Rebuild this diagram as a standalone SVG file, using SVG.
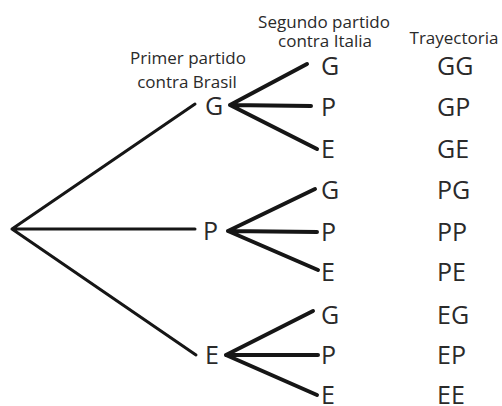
<svg xmlns="http://www.w3.org/2000/svg" width="502" height="406" viewBox="0 0 502 406">
<style>
.t{font-family:"Open Sans","Noto Sans",sans-serif;fill:#2a2a2a}
.h{font-size:17px;text-anchor:middle}
.n{font-size:25px}
.l1{stroke:#161616;stroke-width:3;fill:none;stroke-linecap:round}
.l2{stroke:#161616;stroke-width:4;fill:none;stroke-linecap:round}
</style>
<rect width="502" height="406" fill="#fff"/>
<g id="headers">
<text class="t h" x="324" y="28">Segundo partido</text>
<text class="t h" x="325" y="47">contra Italia</text>
<text class="t h" x="188" y="64">Primer partido</text>
<text class="t h" x="187" y="88">contra Brasil</text>
<text class="t h" x="454" y="44">Trayectoria</text>
</g>
<g id="connectors">
<path class="l1" d="M12,229 L195,104 M12,229 L195,229 M12,229 L196,355"/>
<path class="l2" d="M230,105 L307,64 M230,105 L311,106 M230,105 L317,149"/>
<path class="l2" d="M228,231 L315,189 M228,231 L317,232 M228,231 L318,270"/>
<path class="l2" d="M226,355 L313,311 M226,355 L318,355 M226,355 L317,395"/>
</g>
<g id="level1">
<text class="t n" x="205" y="115">G</text>
<text class="t n" x="203" y="240">P</text>
<text class="t n" x="205" y="364">E</text>
</g>
<g id="level2">
<text class="t n" x="321" y="75">G</text>
<text class="t n" x="321" y="116">P</text>
<text class="t n" x="321" y="158">E</text>
<text class="t n" x="321" y="199">G</text>
<text class="t n" x="321" y="241">P</text>
<text class="t n" x="321" y="281">E</text>
<text class="t n" x="321" y="324">G</text>
<text class="t n" x="321" y="364">P</text>
<text class="t n" x="321" y="404">E</text>
</g>
<g id="paths">
<text class="t n" x="437" y="75">GG</text>
<text class="t n" x="437" y="116">GP</text>
<text class="t n" x="437" y="158">GE</text>
<text class="t n" x="437" y="199">PG</text>
<text class="t n" x="437" y="241">PP</text>
<text class="t n" x="437" y="281">PE</text>
<text class="t n" x="437" y="324">EG</text>
<text class="t n" x="437" y="364">EP</text>
<text class="t n" x="437" y="404">EE</text>
</g>
</svg>
